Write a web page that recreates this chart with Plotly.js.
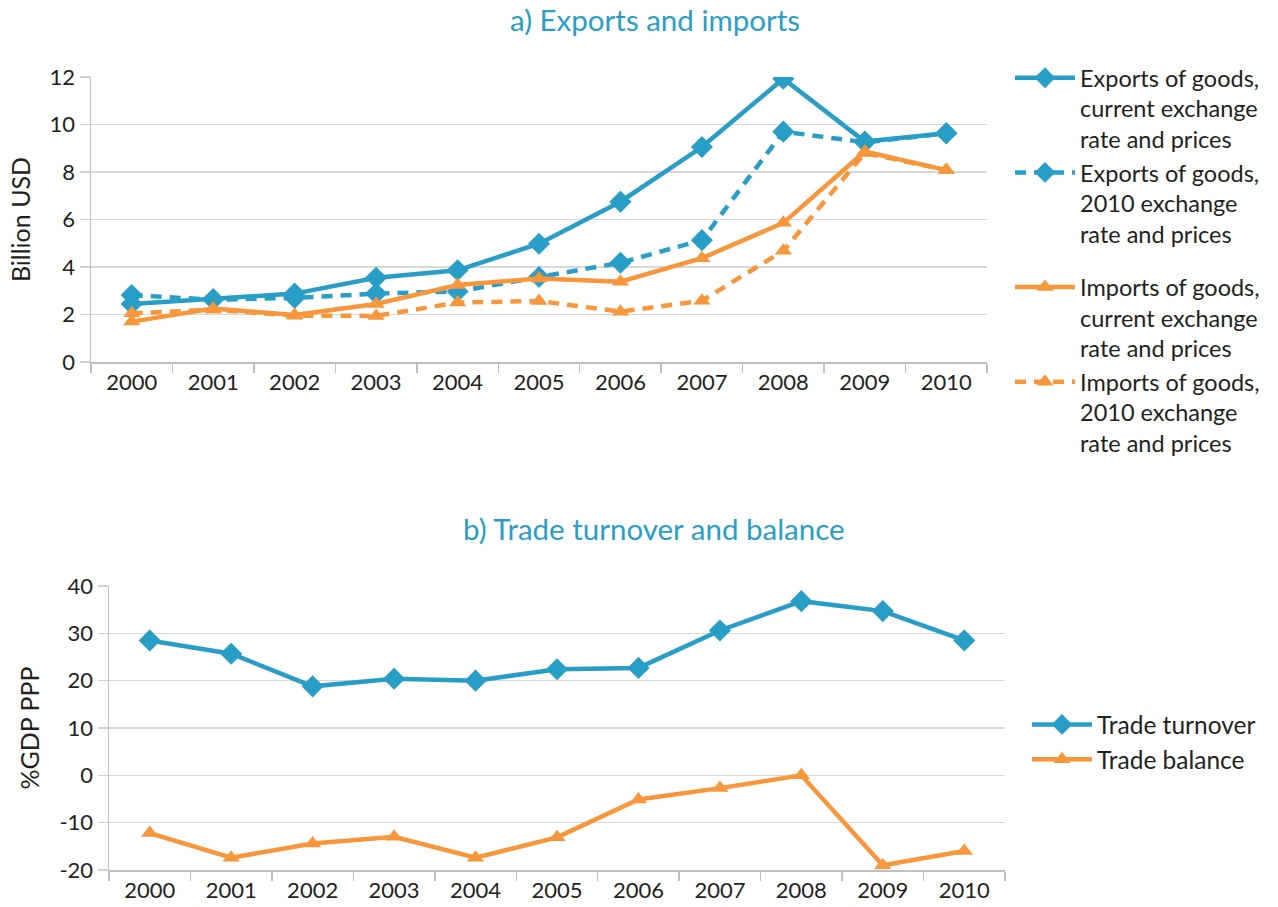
<!DOCTYPE html>
<html>
<head>
<meta charset="utf-8">
<script src="https://cdn.plot.ly/plotly-3.0.1.min.js"></script>
<style>html,body{margin:0;padding:0;background:#fff;}#chart{width:1278px;height:907px;}</style>
</head>
<body>
<div id="chart"></div>
<script>
const years = ["2000","2001","2002","2003","2004","2005","2006","2007","2008","2009","2010"];

const exportsCurrent = [2.44, 2.65, 2.88, 3.55, 3.86, 4.98, 6.75, 9.05, 11.93, 9.28, 9.63];
const exports2010    = [2.82, 2.62, 2.70, 2.88, 2.97, 3.58, 4.18, 5.13, 9.70, 9.25, 9.63];
const importsCurrent = [1.70, 2.25, 1.98, 2.44, 3.24, 3.52, 3.38, 4.37, 5.86, 8.86, 8.08];
const imports2010    = [2.05, 2.20, 1.95, 1.94, 2.50, 2.57, 2.12, 2.58, 4.68, 8.80, 8.08];

const tradeTurnover = [28.5, 25.7, 18.8, 20.4, 20.0, 22.4, 22.7, 30.6, 36.8, 34.7, 28.5];
const tradeBalance  = [-12.2, -17.4, -14.4, -13.0, -17.4, -13.1, -5.1, -2.7, 0.0, -19.0, -16.0];

const yTicksA = [0, 2, 4, 6, 8, 10, 12];
const yTicksB = [-20, -10, 0, 10, 20, 30, 40];
const yTickTextB = ["-20", "-10", "0", "10", "20", "30", "40"];

const seriesNames = [
  "Exports of goods,<br>current exchange<br>rate and prices",
  "Exports of goods,<br>2010 exchange<br>rate and prices",
  "Imports of goods,<br>current exchange<br>rate and prices",
  "Imports of goods,<br>2010 exchange<br>rate and prices",
  "Trade turnover",
  "Trade balance"
];

const BLUE = "#289ec7";
const ORANGE = "#f7963b";
const FONT = "Lato, 'Open Sans', sans-serif";
const TXT = "#231f20";

function tr(y, name, color, dash, sym, msize, xa, ya, legend, group) {
  return {
    type: "scatter", mode: "lines+markers", x: years, y: y, name: name,
    xaxis: xa, yaxis: ya, legend: legend, legendgroup: group,
    line: {color: color, width: 4.5, dash: dash},
    marker: {color: color, symbol: sym, size: msize},
    hoverinfo: "x+y"
  };
}

const data = [
  tr(exportsCurrent, seriesNames[0], BLUE, "solid", "diamond", 17, "x", "y", "legend", "exp"),
  tr(exports2010, seriesNames[1], BLUE, "11px,8px", "diamond", 17, "x", "y", "legend", "exp"),
  tr(importsCurrent, seriesNames[2], ORANGE, "solid", "triangle-up", 15, "x", "y", "legend", "imp"),
  tr(imports2010, seriesNames[3], ORANGE, "11px,8px", "triangle-up", 15, "x", "y", "legend", "imp"),
  tr(tradeTurnover, seriesNames[4], BLUE, "solid", "diamond", 17, "x2", "y2", "legend2", "tt"),
  tr(tradeBalance, seriesNames[5], ORANGE, "solid", "triangle-up", 15, "x2", "y2", "legend2", "tt")
];

const xCommon = {
  type: "category", tickson: "boundaries", ticks: "outside", ticklen: 9, tickwidth: 1.5,
  tickcolor: "#bfbfbf", showline: true, linecolor: "#bfbfbf", linewidth: 1.5,
  showgrid: false, tickfont: {family: FONT, size: 22, color: TXT}, range: [-0.5, 10.5],
  fixedrange: true
};
const yCommon = {
  ticks: "outside", ticklen: 10, tickwidth: 1.5, tickcolor: "#d0d0d0",
  showline: true, linecolor: "#bfbfbf", linewidth: 1.5,
  showgrid: true, gridcolor: "#d9d9d9", gridwidth: 1.5, zeroline: false,
  tickfont: {family: FONT, size: 22, color: TXT}, fixedrange: true
};

const layout = {
  width: 1278, height: 907,
  margin: {l: 0, r: 0, t: 0, b: 0},
  paper_bgcolor: "#fff", plot_bgcolor: "#fff",
  font: {family: FONT, color: TXT},
  showlegend: true,
  xaxis: Object.assign({}, xCommon, {domain: [91/1278, 987/1278], anchor: "y"}),
  yaxis: Object.assign({}, yCommon, {domain: [1-362/907, 1-77/907], anchor: "x",
    range: [0, 12], tickvals: yTicksA,
    title: {text: "Billion USD", font: {family: FONT, size: 25, color: TXT}, standoff: 12}}),
  xaxis2: Object.assign({}, xCommon, {domain: [109/1278, 1005/1278], anchor: "y2"}),
  yaxis2: Object.assign({}, yCommon, {domain: [1-870/907, 1-586/907], anchor: "x2",
    range: [-20, 40], tickvals: yTicksB, ticktext: yTickTextB,
    title: {text: "%GDP PPP", font: {family: FONT, size: 25, color: TXT}, standoff: 12}}),
  legend: {
    x: 1010/1278, y: 1-56/907, xanchor: "left", yanchor: "top", valign: "top",
    font: {family: FONT, size: 23.5, color: TXT},
    traceorder: "grouped", tracegroupgap: 20, itemwidth: 60,
    bgcolor: "rgba(0,0,0,0)"
  },
  legend2: {
    x: 1027/1278, y: 1-702/907, xanchor: "left", yanchor: "top",
    font: {family: FONT, size: 24.5, color: TXT}, itemwidth: 60,
    bgcolor: "rgba(0,0,0,0)"
  },
  annotations: [
    {text: "a) Exports and imports", xref: "paper", yref: "paper", x: 655/1278, y: 1-20/907,
     xanchor: "center", yanchor: "middle", showarrow: false,
     font: {family: FONT, size: 29.5, color: BLUE}},
    {text: "b) Trade turnover and balance", xref: "paper", yref: "paper", x: 654/1278, y: 1-528/907,
     xanchor: "center", yanchor: "middle", showarrow: false,
     font: {family: FONT, size: 29.5, color: BLUE}}
  ]
};

Plotly.newPlot("chart", data, layout, {displayModeBar: false, staticPlot: true});
</script>
</body>
</html>
